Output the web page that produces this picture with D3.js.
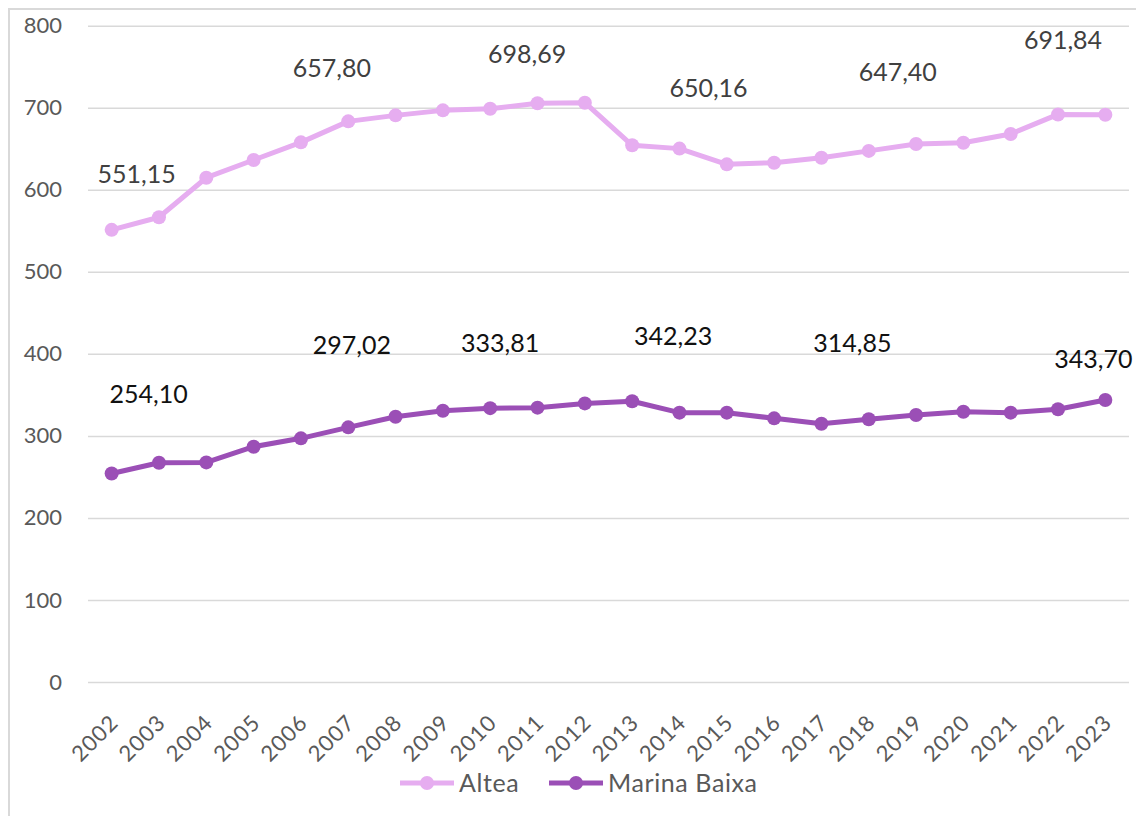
<!doctype html>
<html lang="es">
<head>
<meta charset="utf-8">
<title>Altea / Marina Baixa</title>
<script src="https://d3js.org/d3.v7.min.js"></script>
<style>
  body { margin: 0; background: #fff; }
  svg { display: block; font-family: Lato, "Open Sans", sans-serif; }
</style>
</head>
<body>
<svg id="chart" width="1136" height="816"></svg>
<script>
// data
const years = d3.range(2002, 2024);
const altea = [551.15, 566.5, 614.7, 636.3, 657.80, 683.4, 690.7, 696.8, 698.69, 705.4, 706.1,
               654.2, 650.16, 631.0, 633.0, 639.0, 647.40, 655.8, 657.4, 668.0, 691.84, 691.5];
const marinaBaixa = [254.10, 267.3, 267.7, 286.8, 297.02, 310.4, 323.4, 330.7, 333.81, 334.4, 339.6,
                     342.23, 328.3, 328.3, 321.4, 314.85, 320.2, 325.4, 329.5, 328.3, 332.4, 343.70];
const yTicks = [0, 100, 200, 300, 400, 500, 600, 700, 800];

// which points carry a value label
const alteaLabelYears = [2002, 2006, 2010, 2014, 2018, 2022];
const mbLabelYears = [2002, 2006, 2010, 2013, 2017, 2023];
// labels were moved by hand in the original; pixel nudges (dx, dy)
const alteaNudge = [[25, -47], [31, -65], [37, -46], [29, -52], [29, -70], [5, -65]];
const mbNudge = [[37, -71], [51, -84], [10, -56], [41, -56], [31, -72], [-12, -32]];

const series = [
  { name: "Altea", values: altea, color: "#e6adf0", labelColor: "#404040",
    labelYears: alteaLabelYears, nudge: alteaNudge },
  { name: "Marina Baixa", values: marinaBaixa, color: "#9b4fb6", labelColor: "#111111",
    labelYears: mbLabelYears, nudge: mbNudge }
];

const svg = d3.select("#chart");

// outer frame of the chart
svg.append("path")
  .attr("d", "M9,816 V9 H1136")
  .attr("fill", "none")
  .attr("stroke", "#d9d9d9")
  .attr("stroke-width", 2);

const x = d3.scaleBand().domain(years).range([88, 1129]);
const cx = d => x(d) + x.bandwidth() / 2;
const y = d3.scaleLinear().domain([0, 800]).range([682, 25.7]);

// gridlines + y labels
const yAxis = svg.append("g")
  .attr("transform", "translate(88,0)")
  .call(d3.axisLeft(y).tickValues(yTicks).tickSize(-1041).tickPadding(26).tickFormat(d3.format("d")));
yAxis.select(".domain").remove();
yAxis.selectAll(".tick line").attr("stroke", "#d9d9d9").attr("stroke-width", 1.5);
yAxis.selectAll(".tick text")
  .attr("fill", "#595959")
  .attr("font-size", 22)
  .attr("font-family", "Lato, sans-serif");

// x labels, rotated
const xAxis = svg.append("g")
  .attr("transform", "translate(0,682)")
  .call(d3.axisBottom(x).tickSize(0).tickFormat(d3.format("d")));
xAxis.select(".domain").remove();
xAxis.selectAll(".tick text")
  .attr("fill", "#595959")
  .attr("font-size", 22)
  .attr("letter-spacing", 1)
  .attr("font-family", "Lato, sans-serif")
  .attr("text-anchor", "end")
  .attr("dy", 0)
  .attr("y", 0)
  .attr("transform", "translate(8,42) rotate(-45)");

const line = d3.line()
  .x((d, i) => cx(years[i]))
  .y(d => y(d));

const fmt = v => d3.format(".2f")(v).replace(".", ",");

series.forEach(s => {
  const g = svg.append("g");
  g.append("path")
    .datum(s.values)
    .attr("d", line)
    .attr("fill", "none")
    .attr("stroke", s.color)
    .attr("stroke-width", 5)
    .attr("stroke-linejoin", "round");
  g.selectAll("circle")
    .data(s.values)
    .enter().append("circle")
    .attr("cx", (d, i) => cx(years[i]))
    .attr("cy", d => y(d))
    .attr("r", 7)
    .attr("fill", s.color);
  g.selectAll("text")
    .data(s.labelYears)
    .enter().append("text")
    .attr("x", (yr, i) => cx(yr) + s.nudge[i][0])
    .attr("y", (yr, i) => y(s.values[years.indexOf(yr)]) + s.nudge[i][1])
    .attr("text-anchor", "middle")
    .attr("font-size", 25)
    .attr("fill", s.labelColor)
    .text(yr => fmt(s.values[years.indexOf(yr)]));
});

// legend
const legendPos = [[400, 459], [549, 608]];
const legend = svg.append("g").attr("transform", "translate(0,783)");
series.forEach((s, i) => {
  const [x0, tx] = legendPos[i];
  legend.append("line")
    .attr("x1", x0).attr("x2", x0 + 54)
    .attr("stroke", s.color).attr("stroke-width", 5);
  legend.append("circle")
    .attr("cx", x0 + 27).attr("r", 7).attr("fill", s.color);
  legend.append("text")
    .attr("x", tx).attr("y", 9)
    .attr("font-size", 25)
    .attr("letter-spacing", 0.6)
    .attr("fill", "#595959")
    .text(s.name);
});
</script>
</body>
</html>
